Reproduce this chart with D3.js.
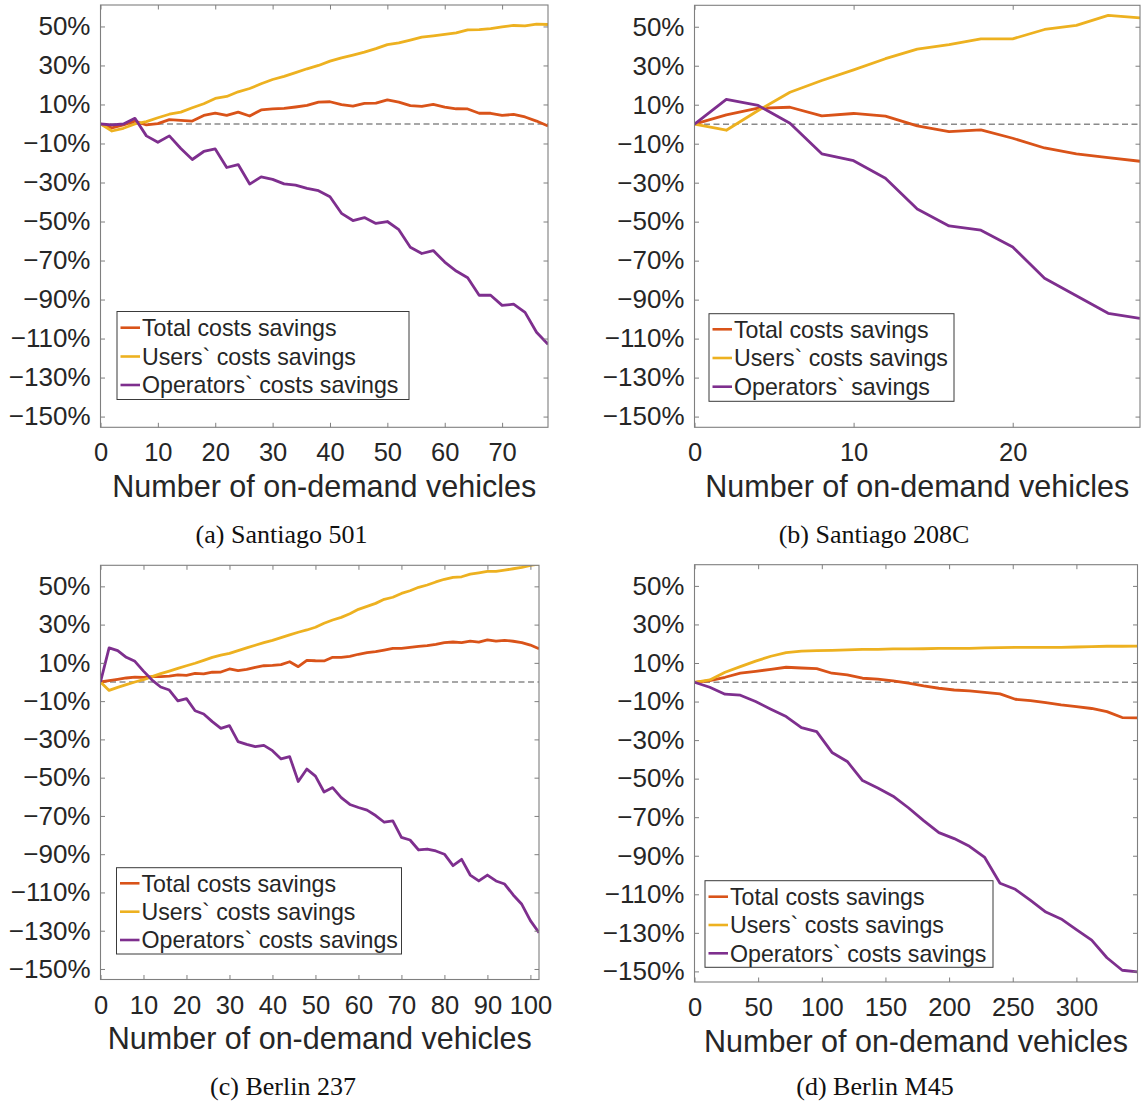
<!DOCTYPE html>
<html><head><meta charset="utf-8">
<script src="https://cdn.jsdelivr.net/npm/d3@7"></script>
<style>body{margin:0;background:#fff} svg{display:block}</style>
</head><body>
<svg id="chart" width="1141" height="1103"></svg>
<script>
// ---------- data ----------
const seriesNames  = ["Total costs savings", "Users` costs savings", "Operators` costs savings"];
const seriesNamesB = ["Total costs savings", "Users` costs savings", "Operators` savings"];
const yTicks = [50, 30, 10, -10, -30, -50, -70, -90, -110, -130, -150];
const captions = ["(a) Santiago 501", "(b) Santiago 208C", "(c) Berlin 237", "(d) Berlin M45"];
const xLabel = "Number of on-demand vehicles";

// (a) Santiago 501
const xA = [0,2,4,6,8,10,12,14,16,18,20,22,24,26,28,30,32,34,36,38,40,42,44,46,48,50,52,54,56,58,60,62,64,66,68,70,72,74,76,78];
const xTicksA = [0,10,20,30,40,50,60,70];
const totalA = [0,-2,-0.5,1.5,-0.5,0.2,2.2,1.9,1.5,4.4,5.6,4.4,6.1,4.1,7.2,7.7,8,8.7,9.5,11.2,11.4,9.9,9.2,10.6,10.7,12.4,11.2,9.4,9,10,8.7,7.8,7.7,5.5,5.5,4.4,4.9,3.6,1.5,-1];
const usersA = [0,-3.6,-2.2,0,1.2,3.2,5,6.1,8.3,10.4,13.1,14.1,16.5,18.2,20.6,22.8,24.4,26.3,28.3,30,32.2,33.9,35.3,36.8,38.6,40.7,41.6,43,44.5,45.2,45.9,46.7,48.2,48.4,48.9,49.8,50.5,50.3,51.2,51];
const opsA   = [0,-0.5,0,2.9,-6.1,-9.4,-6.1,-12.6,-18.2,-14.1,-12.8,-22.3,-20.8,-30.8,-27.1,-28.4,-30.7,-31.3,-33,-34.2,-37.3,-45.8,-49.5,-48,-51,-50,-54.2,-63.2,-66.4,-64.9,-70.8,-75.4,-78.8,-87.8,-87.8,-93,-92.4,-96.6,-106.8,-113];

// (b) Santiago 208C
const xB = [0,2,4,6,8,10,12,14,16,18,20,22,24,26,28];
const xTicksB = [0,10,20];
const totalB = [0,4.8,8.2,8.7,4.3,5.5,4.1,-0.9,-3.8,-2.9,-7.2,-12.2,-15.2,-17.1,-19];
const usersB = [0,-3.1,7,16.4,22.4,27.9,33.6,38.5,40.8,43.8,43.8,48.6,50.7,55.8,54.5];
const opsB   = [0,12.7,9.6,0.5,-15.2,-18.7,-27.7,-43.5,-52.2,-54.4,-63,-79,-88,-97,-99.6];

// (c) Berlin 237
const xC = [0,2,4,6,8,10,12,14,16,18,20,22,24,26,28,30,32,34,36,38,40,42,44,46,48,50,52,54,56,58,60,62,64,66,68,70,72,74,76,78,80,82,84,86,88,90,92,94,96,98,100,102];
const xTicksC = [0,10,20,30,40,50,60,70,80,90,100];
const totalC = [0,0.7,1.4,2.1,2.6,2.4,2.8,2.8,3.1,3.7,3.5,4.5,4.2,5.1,5.2,6.8,5.9,6.6,7.7,8.5,8.7,9.1,10.6,8,11.3,11.1,11,12.9,12.9,13.4,14.5,15.3,15.9,16.7,17.6,17.6,18.1,18.6,19,19.7,20.6,20.9,20.6,21.4,20.9,22,21.4,21.8,21.3,20.6,19.3,17.4];
const usersC = [0,-4.4,-2.8,-1.4,0,1.2,2.8,4.4,5.7,7.1,8.5,9.8,11.3,12.9,14.1,15,16.4,17.8,19.2,20.6,21.8,23.2,24.6,26,27.2,28.6,30.7,32.4,33.8,35.7,38,39.5,41.1,43.2,44.3,46.3,47.7,49.5,50.7,52.3,53.7,54.7,55,56.4,57.1,57.8,57.8,58.5,59.2,59.9,61,61.7];
const opsC   = [0,17.8,16.4,12.9,10.8,5.7,1,-2.6,-4.2,-9.9,-8.7,-15,-16.7,-20.7,-24.2,-22.8,-31.2,-32.6,-33.8,-33.1,-35.9,-40.2,-39,-52,-45.5,-49.2,-57.5,-55.2,-60.4,-64,-65.6,-67,-69.8,-73.3,-72.6,-81.2,-82.6,-87.8,-87.3,-88.3,-90,-96,-92.7,-100.9,-104,-100.9,-104,-105.6,-111.3,-116.2,-124.7,-131];

// (d) Berlin M45
const xD = [0,12,24,36,48,60,72,84,96,108,120,132,144,156,168,180,192,204,216,228,240,252,264,276,288,300,312,324,336,348];
const xTicksD = [0,50,100,150,200,250,300];
const totalD = [0,0.9,2.6,4.7,5.7,6.7,7.8,7.4,7.1,4.7,3.8,2.1,1.6,0.7,-0.5,-1.9,-3.1,-4,-4.5,-5.2,-6,-8.8,-9.5,-10.5,-11.7,-12.6,-13.6,-15.2,-18.3,-18.5];
const usersD = [0,1.2,5.2,8.1,11,13.5,15.4,16.2,16.4,16.6,16.8,17.1,17.1,17.3,17.3,17.4,17.6,17.6,17.6,17.8,18,18.1,18.1,18.1,18.1,18.3,18.5,18.7,18.7,18.8];
const opsD   = [0,-2.6,-6.2,-6.7,-10,-14,-17.8,-23.5,-25.6,-36.4,-41.1,-51,-54.8,-59.1,-65.1,-71.8,-78,-81.1,-85.1,-90.9,-104.3,-107.4,-113.2,-119.2,-122.8,-128.3,-133.8,-142.9,-149.4,-150.3];

// ---------- styles / layout ----------
const colors = ["#D95319", "#EDB120", "#7E2F8E"];
const yDomain = [-155.5, 61];
const FONT = "'Liberation Sans', Arial, Helvetica, sans-serif";
const TXT = "#262626";

const panels = [
  {x: xA, xmax: 78, xt: xTicksA, series: [totalA, usersA, opsA], names: seriesNames,
   box: {l: 100.5, r: 548, t: 5, b: 427.3},
   leg: {l: 117, r: 409, t: 311.5, b: 399.5, rows: [327.7, 356.5, 385]},
   cap: {x: 281.5, y: 543}},
  {x: xB, xmax: 28, xt: xTicksB, series: [totalB, usersB, opsB], names: seriesNamesB,
   box: {l: 694.5, r: 1140, t: 5.3, b: 427.3},
   leg: {l: 709, r: 954, t: 313.7, b: 401.3, rows: [329.3, 358, 386.7]},
   cap: {x: 874, y: 543}},
  {x: xC, xmax: 102, xt: xTicksC, series: [totalC, usersC, opsC], names: seriesNames,
   box: {l: 116.5, r: 401.5, t: 867.7, b: 954, rows: [883.3, 911.7, 940]},
   cap: {x: 283, y: 1095}},
  {x: xD, xmax: 348, xt: xTicksD, series: [totalD, usersD, opsD], names: seriesNames,
   box: {l: 694.5, r: 1137.5, t: 564.7, b: 982},
   leg: {l: 705, r: 993, t: 880.7, b: 967.3, rows: [896.7, 925, 953.3]},
   cap: {x: 875, y: 1095}}
];
// fix panel c box/legend (kept separate for clarity)
panels[2].leg = panels[2].box;
panels[2].box = {l: 100.5, r: 539, t: 565.3, b: 979.5};

const svg = d3.select("#chart");
const pct = d => (d < 0 ? "\u2212" + (-d) : "" + d) + "%";

panels.forEach((p, i) => {
  const {l, r, t, b} = p.box;
  const x = d3.scaleLinear().domain([0, p.xmax]).range([l, r]);
  const y = d3.scaleLinear().domain(yDomain).range([b, t]);
  const g = svg.append("g");

  const clipId = "clip" + i;
  svg.append("defs").append("clipPath").attr("id", clipId)
    .append("rect").attr("x", l).attr("y", t).attr("width", r - l).attr("height", b - t);

  // zero dashed line
  g.append("line")
    .attr("x1", x(0)).attr("x2", x(p.xmax)).attr("y1", y(0)).attr("y2", y(0))
    .attr("stroke", "#8a8a8a").attr("stroke-width", 1.5).attr("stroke-dasharray", "6,3.5");

  // series
  const line = d3.line().x((d, k) => x(p.x[k])).y(d => y(d));
  p.series.forEach((s, k) => {
    g.append("path").datum(s)
      .attr("d", line)
      .attr("fill", "none")
      .attr("stroke", colors[k])
      .attr("stroke-width", 2.8)
      .attr("stroke-linejoin", "round")
      .attr("clip-path", `url(#${clipId})`);
  });

  // axes (ticks inward on all four sides)
  const styleAxis = (sel, fs) => {
    sel.select(".domain").remove();
    sel.selectAll(".tick line").attr("stroke", "#7f7f7f").attr("stroke-width", 1);
    sel.selectAll(".tick text").attr("fill", TXT).style("font-family", FONT).style("font-size", fs + "px");
  };
  g.append("g").attr("transform", `translate(${l},0)`)
    .call(d3.axisLeft(y).tickValues(yTicks).tickFormat(pct).tickSizeInner(-4.5).tickSizeOuter(0).tickPadding(10))
    .call(styleAxis, 26);
  g.append("g").attr("transform", `translate(${r},0)`)
    .call(d3.axisRight(y).tickValues(yTicks).tickFormat("").tickSizeInner(-4.5).tickSizeOuter(0))
    .call(styleAxis, 26);
  g.append("g").attr("transform", `translate(0,${b})`)
    .call(d3.axisBottom(x).tickValues(p.xt).tickFormat(d3.format("d")).tickSizeInner(-4.5).tickSizeOuter(0).tickPadding(16))
    .call(styleAxis, 25.5);
  g.append("g").attr("transform", `translate(0,${t})`)
    .call(d3.axisTop(x).tickValues(p.xt).tickFormat("").tickSizeInner(-4.5).tickSizeOuter(0))
    .call(styleAxis, 25.5);

  // box
  g.append("rect").attr("x", l).attr("y", t).attr("width", r - l).attr("height", b - t)
    .attr("fill", "none").attr("stroke", "#7f7f7f").attr("stroke-width", 1.1);

  // x label
  g.append("text").attr("x", (l + r) / 2).attr("y", b + 69.5)
    .attr("text-anchor", "middle").attr("fill", TXT)
    .style("font-family", FONT).style("font-size", "30.5px").text(xLabel);

  // legend
  const L = p.leg;
  const lg = g.append("g");
  lg.append("rect").attr("x", L.l).attr("y", L.t).attr("width", L.r - L.l).attr("height", L.b - L.t)
    .attr("fill", "#fff").attr("stroke", "#3a3a3a").attr("stroke-width", 1);
  p.names.forEach((name, k) => {
    lg.append("line").attr("x1", L.l + 3.5).attr("x2", L.l + 23).attr("y1", L.rows[k]).attr("y2", L.rows[k])
      .attr("stroke", colors[k]).attr("stroke-width", 2.6);
    lg.append("text").attr("x", L.l + 25).attr("y", L.rows[k]).attr("dy", "0.36em")
      .attr("fill", TXT).style("font-family", FONT).style("font-size", "23.2px").text(name);
  });

  // caption
  svg.append("text").attr("x", p.cap.x).attr("y", p.cap.y).attr("text-anchor", "middle")
    .attr("fill", "#111").style("font-family", "'Liberation Serif', 'Times New Roman', serif")
    .style("font-size", "26px").text(captions[i]);
});
</script>
</body></html>
